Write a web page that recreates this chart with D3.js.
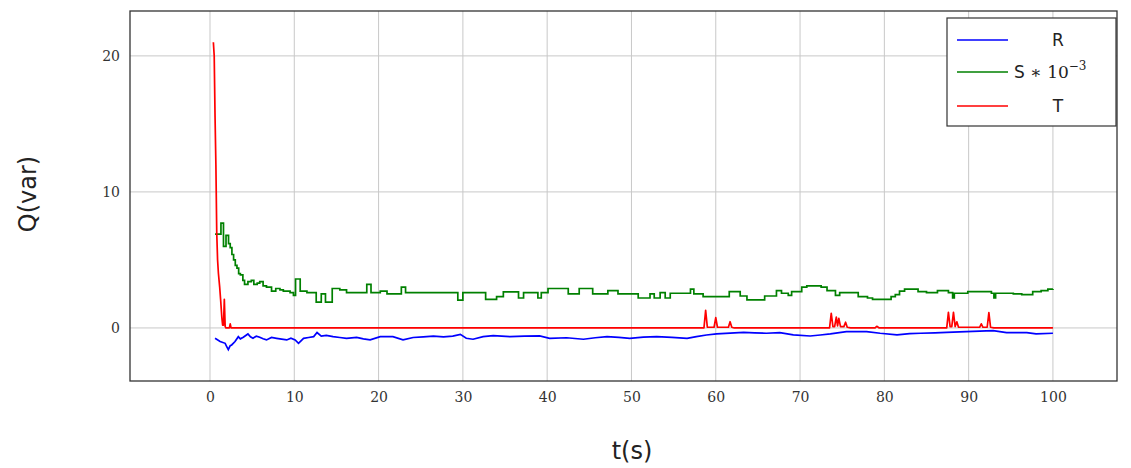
<!DOCTYPE html>
<html lang="en">
<meta charset="utf-8">
<head>
<script src="https://d3js.org/d3.v7.min.js"></script>
<style>
  body { margin: 0; background: #fff; }
  .tick text { font-family: "DejaVu Serif", serif; font-size: 14px; fill: #333; }
</style>
</head>
<body>
<script>
// R series [t, value]
const rData = [
  [0.6,-0.76],[1.2,-1.0],[1.8,-1.13],[2.0,-1.4],[2.17,-1.6],[2.4,-1.3],[2.57,-1.25],[2.97,-1.0],
  [3.36,-0.64],[3.6,-0.8],[3.95,-0.68],[4.5,-0.44],[4.8,-0.65],[5.1,-0.76],[5.5,-0.6],[5.9,-0.68],
  [6.3,-0.8],[6.7,-0.88],[7.3,-0.7],[7.9,-0.76],[8.5,-0.82],[9.1,-0.88],[9.6,-0.75],[10.1,-0.88],
  [10.5,-1.13],[11.1,-0.76],[11.7,-0.7],[12.3,-0.64],[12.7,-0.34],[13.2,-0.6],[13.8,-0.55],[14.6,-0.64],
  [15.4,-0.7],[16.2,-0.76],[17.4,-0.7],[18.2,-0.8],[19,-0.88],[20.2,-0.64],[21.7,-0.64],[22.9,-0.88],
  [24.1,-0.7],[25.3,-0.65],[26.5,-0.6],[27.7,-0.66],[28.8,-0.6],[29.7,-0.47],[30.4,-0.76],[31.2,-0.83],
  [32.4,-0.64],[33.6,-0.57],[35.6,-0.64],[37.3,-0.6],[39.1,-0.59],[40.3,-0.76],[42.3,-0.72],[44.3,-0.83],
  [45.7,-0.72],[47.1,-0.64],[48.5,-0.7],[49.8,-0.76],[51.4,-0.68],[53,-0.64],[54.8,-0.7],[56.6,-0.76],
  [57.7,-0.64],[58.9,-0.52],[60.1,-0.44],[61.7,-0.38],[63.3,-0.32],[64.6,-0.36],[66,-0.39],[67.6,-0.34],
  [69.2,-0.51],[71.2,-0.59],[72.4,-0.52],[73.6,-0.44],[75.5,-0.27],[77.9,-0.27],[79.5,-0.39],[81.5,-0.51],
  [83,-0.42],[84.3,-0.39],[86,-0.36],[87.4,-0.32],[89.7,-0.27],[91.3,-0.24],[92.9,-0.2],[94.5,-0.34],
  [96.9,-0.34],[98,-0.44],[100,-0.39]
];

// S * 1e-3 series, each value holds until the next t
const sData = [
  [0.6,6.9],[1.3,7.7],[1.6,6.0],[1.9,6.8],[2.2,6.2],[2.4,5.9],[2.6,5.4],[2.8,5.0],[3.0,4.6],[3.2,4.4],
  [3.4,4.0],[3.6,3.9],[3.9,3.5],[4.1,3.2],[4.5,3.4],[4.9,3.5],[5.2,3.2],[5.6,3.3],[5.9,3.4],[6.3,3.1],
  [6.7,3.0],[7.3,2.7],[7.8,2.9],[8.3,2.8],[8.7,2.7],[9.5,2.6],[9.9,2.4],[10.15,3.6],[10.7,2.7],[11.5,2.6],
  [12.6,1.9],[13.2,2.5],[13.7,1.9],[14.5,2.9],[15.4,2.8],[16.2,2.6],[18.6,3.2],[19.1,2.6],[20.2,2.7],
  [21,2.5],[22.7,3.0],[23.2,2.6],[29.4,2.05],[30.0,2.6],[32.7,2.1],[34.0,2.3],[34.8,2.65],[36.6,2.2],
  [37.2,2.6],[38.9,2.2],[39.3,2.6],[40.1,2.9],[42.5,2.5],[43.8,2.9],[45.4,2.5],[47.2,2.75],[48.4,2.5],
  [50.8,2.2],[52.2,2.5],[52.7,2.2],[53.4,2.6],[54.0,2.2],[54.6,2.55],[57.0,2.85],[57.4,2.5],[58.5,2.3],
  [61.6,2.67],[62.9,2.35],[63.7,2.06],[65.8,2.35],[67.2,2.75],[67.8,2.55],[68.6,2.4],[69.0,2.67],
  [70.2,3.0],[70.8,3.1],[72.5,3.0],[73.2,2.75],[74.2,2.4],[74.7,2.6],[76.9,2.3],[78.0,2.2],[78.6,2.1],
  [80.8,2.3],[81.3,2.45],[81.8,2.7],[82.4,2.85],[84.0,2.67],[85.0,2.6],[86.3,2.75],[87.6,2.6],[88.1,2.2],
  [88.3,2.55],[89.9,2.67],[92.7,2.55],[93.0,2.2],[93.2,2.55],[95.3,2.5],[96.3,2.45],[97.6,2.67],
  [98.6,2.75],[99.4,2.85],[100,2.87]
];

// T series
const tData = [
  [0.4,21.0],[0.5,20.0],[0.6,15.5],[0.7,12.0],[0.8,7.0],[0.9,5.0],[1.0,4.0],[1.15,3.0],[1.27,2.0],
  [1.4,0.8],[1.5,0.2],[1.6,0.2],[1.7,2.1],[1.8,0.1],[1.9,0],[2.3,0],[2.4,0.3],[2.5,0],
  [58.6,0],[58.8,1.3],[59.0,0.05],[59.8,0.05],[60.0,0.76],[60.2,0.05],[61.5,0.05],[61.7,0.46],[61.9,0.05],[62.2,0],
  [73.5,0],[73.7,1.08],[73.9,0.1],[74.1,0.1],[74.3,0.8],[74.45,0.15],[74.6,0.7],[74.8,0.1],[75.2,0.1],
  [75.4,0.42],[75.6,0.05],[76,0],[78.9,0],[79.1,0.12],[79.4,0],
  [87.4,0],[87.6,1.15],[87.8,0.1],[88.0,0.1],[88.2,1.15],[88.4,0.1],[88.6,0.45],[88.8,0.05],
  [91.3,0.05],[91.5,0.3],[91.7,0.05],[92.2,0.05],[92.4,1.12],[92.6,0.05],[93,0],[100,0]
];

const xTicks = [0, 10, 20, 30, 40, 50, 60, 70, 80, 90, 100];
const yTicks = [0, 10, 20];

const margin = {top: 11, right: 14, bottom: 87, left: 130};
const W = 1131, H = 468;
const width = W - margin.left - margin.right;
const height = H - margin.top - margin.bottom;

const svg = d3.select("body").append("svg")
    .attr("width", W)
    .attr("height", H);
const g = svg.append("g")
    .attr("transform", "translate(" + margin.left + "," + margin.top + ")");

const x = d3.scaleLinear().domain([-9.49, 107.6]).range([0, width]);
const y = d3.scaleLinear().domain([-3.9, 23.3]).range([height, 0]);

// grid
g.append("g")
    .selectAll("line")
    .data(xTicks)
    .join("line")
    .attr("x1", d => x(d)).attr("x2", d => x(d))
    .attr("y1", 0).attr("y2", height)
    .attr("stroke", "#c8c8c8").attr("stroke-width", 1);
g.append("g")
    .selectAll("line")
    .data(yTicks)
    .join("line")
    .attr("x1", 0).attr("x2", width)
    .attr("y1", d => y(d)).attr("y2", d => y(d))
    .attr("stroke", "#c8c8c8").attr("stroke-width", 1);

// axes
const xAxis = g.append("g")
    .attr("transform", "translate(0," + height + ")")
    .call(d3.axisBottom(x).tickValues(xTicks).tickSize(0).tickPadding(11));
xAxis.select(".domain").remove();
const yAxis = g.append("g")
    .call(d3.axisLeft(y).tickValues(yTicks).tickSize(0).tickPadding(10));
yAxis.select(".domain").remove();

// series
const line = d3.line().x(d => x(d[0])).y(d => y(d[1]));
const stepLine = d3.line().x(d => x(d[0])).y(d => y(d[1])).curve(d3.curveStepAfter);

const plot = g.append("g");
plot.append("path").datum(rData)
    .attr("d", line)
    .attr("fill", "none").attr("stroke", "#0000ff").attr("stroke-width", 1.7);
plot.append("path").datum(sData)
    .attr("d", stepLine)
    .attr("fill", "none").attr("stroke", "#008000").attr("stroke-width", 1.7);
plot.append("path").datum(tData)
    .attr("d", line)
    .attr("fill", "none").attr("stroke", "#ff0000").attr("stroke-width", 1.7)
    .attr("stroke-linejoin", "round");

// frame
g.append("rect")
    .attr("x", 0).attr("y", 0)
    .attr("width", width).attr("height", height)
    .attr("fill", "none").attr("stroke", "#333").attr("stroke-width", 1.3);

// axis labels
svg.append("text")
    .attr("x", 632).attr("y", 459)
    .attr("text-anchor", "middle")
    .style("font-family", "DejaVu Sans, sans-serif")
    .style("font-size", "24px")
    .attr("fill", "#222")
    .text("t(s)");
svg.append("text")
    .attr("transform", "translate(36,194) rotate(-90)")
    .attr("text-anchor", "middle")
    .style("font-family", "DejaVu Sans, sans-serif")
    .style("font-size", "24px")
    .attr("fill", "#222")
    .text("Q(var)");

// legend
const legend = svg.append("g").attr("transform", "translate(947,18)");
legend.append("rect")
    .attr("width", 169).attr("height", 108)
    .attr("fill", "#fff").attr("stroke", "#333").attr("stroke-width", 1.2);
const legendItems = [
  {color: "#0000ff", rowY: 22},
  {color: "#008000", rowY: 54},
  {color: "#ff0000", rowY: 88}
];
legend.selectAll("line.key")
    .data(legendItems)
    .join("line")
    .attr("class", "key")
    .attr("x1", 10).attr("x2", 61)
    .attr("y1", d => d.rowY).attr("y2", d => d.rowY)
    .attr("stroke", d => d.color).attr("stroke-width", 1.6);

legend.append("text")
    .attr("x", 111).attr("y", 28)
    .attr("text-anchor", "middle")
    .style("font-family", "DejaVu Sans, sans-serif").style("font-size", "17px")
    .attr("fill", "#222")
    .text("R");
const sLabel = legend.append("text")
    .attr("x", 67).attr("y", 60)
    .style("font-size", "17px")
    .attr("fill", "#222");
sLabel.append("tspan").style("font-family", "DejaVu Sans, sans-serif").text("S");
sLabel.append("tspan").style("font-family", "DejaVu Serif, serif").text(" \u2217 10");
sLabel.append("tspan").style("font-family", "DejaVu Serif, serif").style("font-size", "12px")
    .attr("dy", -8).text("\u22123");
legend.append("text")
    .attr("x", 111).attr("y", 94)
    .attr("text-anchor", "middle")
    .style("font-family", "DejaVu Sans, sans-serif").style("font-size", "17px")
    .attr("fill", "#222")
    .text("T");
</script>
</body>
</html>
